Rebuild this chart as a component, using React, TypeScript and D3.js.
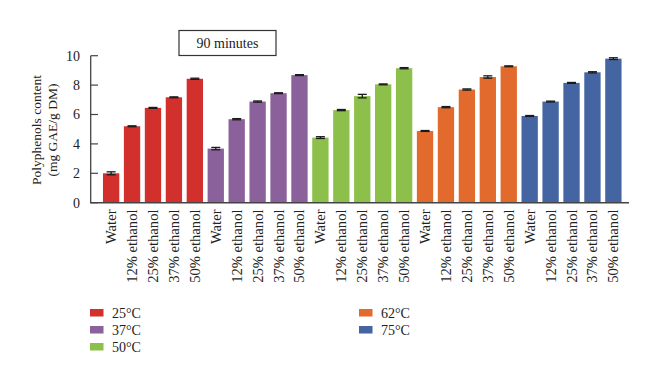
import React from "react";
import * as d3 from "d3";

const solvents = ["Water", "12% ethanol", "25% ethanol", "37% ethanol", "50% ethanol"];
const temperatures = ["25°C", "37°C", "50°C", "62°C", "75°C"];
const colors = ["#d1302c", "#8a619b", "#8dc04b", "#e26a2d", "#4465a2"];
const values25 = [2.0, 5.2, 6.45, 7.17, 8.43];
const values37 = [3.68, 5.68, 6.88, 7.45, 8.68];
const values50 = [4.43, 6.3, 7.25, 8.05, 9.15];
const values62 = [4.88, 6.5, 7.7, 8.55, 9.28];
const values75 = [5.9, 6.88, 8.15, 8.87, 9.8];
const errors25 = [0.1, 0.03, 0.03, 0.03, 0.04];
const errors37 = [0.08, 0.04, 0.04, 0.03, 0.03];
const errors50 = [0.06, 0.04, 0.12, 0.03, 0.04];
const errors62 = [0.03, 0.04, 0.04, 0.08, 0.03];
const errors75 = [0.03, 0.03, 0.03, 0.04, 0.06];
const yTicks = [0, 2, 4, 6, 8, 10];
const title = "90 minutes";
const yLabel1 = "Polyphenols content";
const yLabel2 = "(mg GAE/g DM)";

const allValues = [values25, values37, values50, values62, values75];
const allErrors = [errors25, errors37, errors50, errors62, errors75];

type Bar = { key: string; solvent: string; group: number; value: number; err: number };
const bars: Bar[] = [];
allValues.forEach((vals, g) =>
  vals.forEach((v, i) =>
    bars.push({ key: `${g}-${i}`, solvent: solvents[i], group: g, value: v, err: allErrors[g][i] })
  )
);

const FONT = "'Liberation Serif', 'DejaVu Serif', serif";

export default function App() {
  const x = d3
    .scaleBand<string>()
    .domain(bars.map((b) => b.key))
    .range([92.5, 632])
    .paddingInner(0.22)
    .paddingOuter(0.5);
  const y = d3.scaleLinear().domain([0, 10]).range([202.7, 55.7]);
  const bw = x.bandwidth();
  const axisColor = "#444";

  const legendItems = temperatures.map((t, i) => ({
    t,
    c: colors[i],
    x: i < 3 ? 90 : 359,
    y: i < 3 ? 313 + i * 17 : 313 + (i - 3) * 17,
  }));

  return (
    <svg width={660} height={383} style={{ position: "absolute", left: 0, top: 0, background: "#fff" }} fontFamily={FONT}>
      <rect width={660} height={383} fill="#fff" />
      {/* title box */}
      <rect x={179} y={30.5} width={97} height={25} fill="#fff" stroke="#333" strokeWidth={1.2} />
      <text x={227.5} y={47.5} fontSize={14} textAnchor="middle" fill="#222">
        {title}
      </text>
      {/* bars */}
      {bars.map((b) => (
        <rect
          key={b.key}
          x={x(b.key)}
          y={y(b.value)}
          width={bw}
          height={y(0) - y(b.value)}
          fill={colors[b.group]}
        />
      ))}
      {/* error bars */}
      {bars.map((b) => {
        const cx = (x(b.key) as number) + bw / 2;
        return (
          <g key={"e" + b.key} stroke="#1a1a1a" strokeWidth={1.3}>
            <line x1={cx} x2={cx} y1={y(b.value + b.err)} y2={y(b.value - b.err)} />
            <line x1={cx - 4.5} x2={cx + 4.5} y1={y(b.value + b.err)} y2={y(b.value + b.err)} />
            <line x1={cx - 4.5} x2={cx + 4.5} y1={y(b.value - b.err)} y2={y(b.value - b.err)} />
          </g>
        );
      })}
      {/* axes */}
      <line x1={90.7} x2={90.7} y1={y(10)} y2={y(0)} stroke={axisColor} strokeWidth={1.3} />
      <line x1={90} x2={629} y1={y(0)} y2={y(0)} stroke={axisColor} strokeWidth={1.5} />
      {yTicks.map((t) => (
        <g key={"t" + t}>
          <line x1={90.7} x2={98} y1={y(t)} y2={y(t)} stroke={axisColor} strokeWidth={1.2} />
          <text x={80} y={y(t)} dy="0.35em" fontSize={14} textAnchor="end" fill="#222">
            {t}
          </text>
        </g>
      ))}
      {/* x labels */}
      {bars.map((b) => {
        const cx = (x(b.key) as number) + bw / 2;
        return (
          <text
            key={"l" + b.key}
            transform={`translate(${cx + 5},${209.5}) rotate(-90)`}
            fontSize={14.6}
            textAnchor="end"
            fill="#222"
          >
            {b.solvent}
          </text>
        );
      })}
      {/* y label */}
      <text transform={`translate(41,130) rotate(-90)`} fontSize={13.5} textAnchor="middle" fill="#222">
        {yLabel1}
      </text>
      <text transform={`translate(57,130) rotate(-90)`} fontSize={13.5} textAnchor="middle" fill="#222">
        {yLabel2}
      </text>
      {/* legend */}
      {legendItems.map((l) => (
        <g key={l.t}>
          <rect x={l.x} y={l.y - 4} width={13.5} height={7.5} fill={l.c} />
          <text x={l.x + 22} y={l.y} dy="0.35em" fontSize={14} fill="#222">
            {l.t}
          </text>
        </g>
      ))}
    </svg>
  );
}
